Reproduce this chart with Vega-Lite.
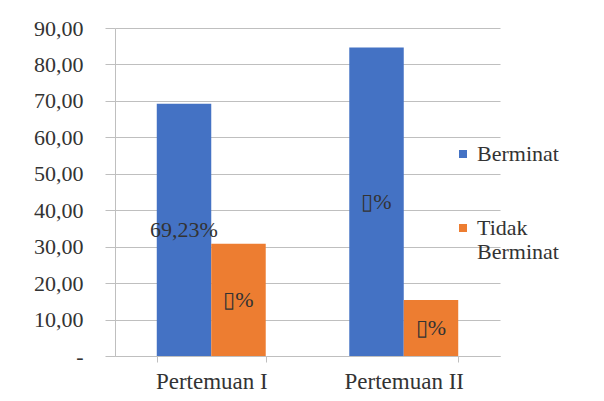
{
  "$schema": "https://vega.github.io/schema/vega-lite/v6.json",
  "width": 385,
  "height": 328,
  "autosize": {"type": "none"},
  "padding": {"left": 115, "top": 28, "right": 104, "bottom": 45},
  "background": "white",
  "config": {
    "font": "Liberation Serif",
    "view": {"stroke": null},
    "legend": {"labelFont": "Liberation Serif"}
  },
  "data": {
    "values": [
      {"pertemuan": "Pertemuan I", "kategori": "Berminat", "nilai": 69.23, "label": "69,23%"},
      {"pertemuan": "Pertemuan I", "kategori": "Tidak Berminat", "nilai": 30.77, "label": "▯%"},
      {"pertemuan": "Pertemuan II", "kategori": "Berminat", "nilai": 84.62, "label": "▯%"},
      {"pertemuan": "Pertemuan II", "kategori": "Tidak Berminat", "nilai": 15.38, "label": "▯%"}
    ]
  },
  "encoding": {
    "x": {
      "field": "pertemuan", "type": "nominal", "title": null,
      "scale": {"paddingInner": 0.434, "paddingOuter": 0.217},
      "axis": {
        "labelAngle": 0, "labelFontSize": 23, "labelColor": "#333333", "labelFont": "Liberation Serif",
        "labelPadding": 8, "domainColor": "#bfbfbf", "tickColor": "#bfbfbf",
        "tickBand": "extent", "tickSize": 6
      }
    },
    "xOffset": {"field": "kategori", "type": "nominal", "scale": {"paddingInner": 0, "paddingOuter": 0}}
  },
  "resolve": {"axis": {"y": "independent"}},
  "layer": [
    {
      "mark": {"type": "bar"},
      "encoding": {
        "y": {
          "field": "nilai", "type": "quantitative", "title": null,
          "scale": {"domain": [0, 90], "nice": false},
          "axis": {
            "values": [0, 10, 20, 30, 40, 50, 60, 70, 80, 90],
            "labelExpr": "datum.value == 0 ? '-' : replace(format(datum.value, '.2f'), '.', ',')",
            "labelFontSize": 22, "labelColor": "#333333", "labelFont": "Liberation Serif", "labelPadding": 22,
            "labelOverlap": false, "labelFlush": false,
            "tickSize": 10, "tickColor": "#bfbfbf", "domainColor": "#bfbfbf",
            "gridColor": "#bfbfbf", "grid": true
          }
        },
        "color": {
          "field": "kategori", "type": "nominal", "title": null,
          "scale": {"domain": ["Berminat", "Tidak Berminat"], "range": ["#4472C4", "#ED7D31"]},
          "legend": {
            "orient": "none", "legendX": 337, "legendY": 115,
            "symbolType": "square", "symbolSize": 64, "symbolStrokeWidth": 0,
            "labelFont": "Liberation Serif", "labelFontSize": 22, "labelColor": "#333333", "rowPadding": 52,
            "labelOffset": 3,
            "labelExpr": "datum.label == 'Tidak Berminat' ? ['Tidak', 'Berminat'] : datum.label"
          }
        }
      }
    },
    {
      "transform": [{"calculate": "datum.nilai / 2", "as": "tengah"}],
      "mark": {"type": "text", "fontSize": 22, "color": "#333333", "font": "Liberation Serif"},
      "encoding": {
        "y": {"field": "tengah", "type": "quantitative", "axis": null},
        "text": {"field": "label"}
      }
    }
  ]
}
